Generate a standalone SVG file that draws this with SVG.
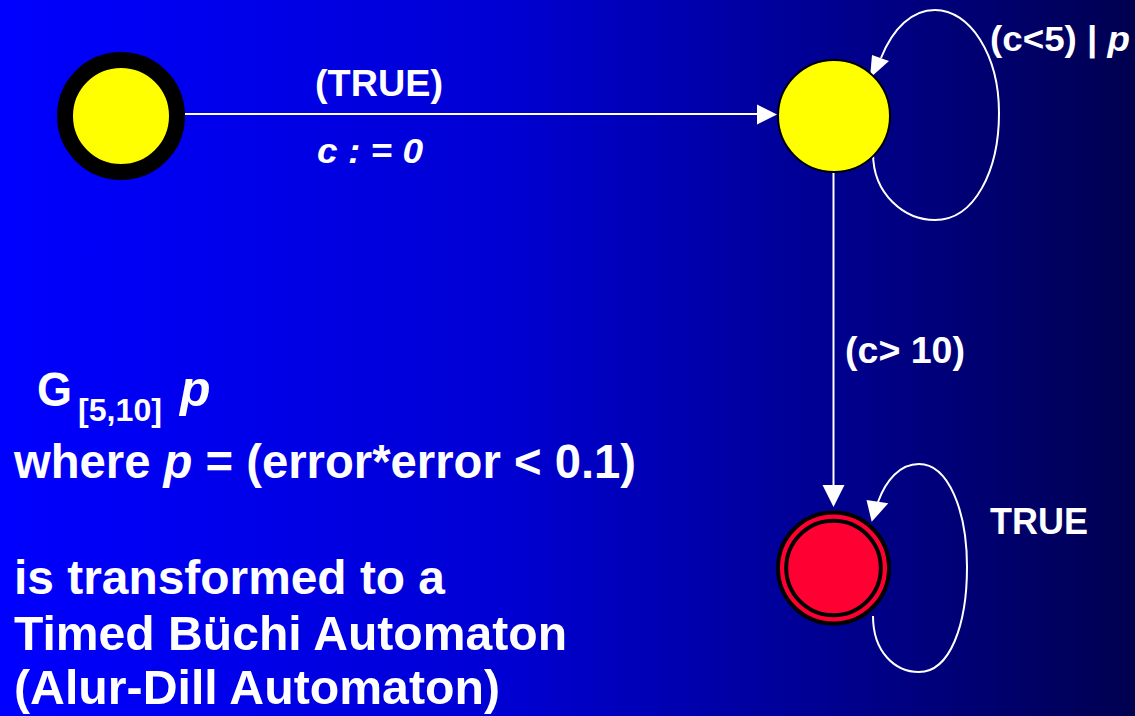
<svg xmlns="http://www.w3.org/2000/svg" width="1135" height="716" viewBox="0 0 1135 716">
<style>
.t{font-family:"Liberation Sans",Arial,sans-serif;font-weight:bold;fill:#fff}
.i{font-style:italic}
.edge{stroke:#fff;stroke-width:2;fill:none}
.head{fill:#fff}
</style>
<defs>
<linearGradient id="bg" x1="0" y1="0" x2="1" y2="0">
<stop offset="0" stop-color="#0000ff"/>
<stop offset="0.45" stop-color="#0000d2"/>
<stop offset="0.75" stop-color="#00008c"/>
<stop offset="1" stop-color="#000050"/>
</linearGradient>
</defs>
<rect width="1135" height="716" fill="url(#bg)"/>
<g id="connectors">
<line class="edge" x1="185" y1="114" x2="760" y2="114"/>
<polygon class="head" points="777,114.5 757,104.5 757,124.5"/>
<line class="edge" x1="833.5" y1="172" x2="833.5" y2="488"/>
<polygon class="head" points="833.5,507 822.5,485 844.5,485"/>
<path class="edge" d="M873,153 C873,195 905,220 935,220 C975,220 999,170 999,113 C999,55 970,10 935,10 C912,10 893,28 881,58"/>
<polygon class="head" points="870,78 872,55 889,61"/>
<path class="edge" d="M873,616 C873,652 895,672 919,672 C950,672 967,625 967,567 C967,510 948,464 919,464 C900,464 886,480 878,502"/>
<polygon class="head" points="871.7,521.7 866.5,500 888.3,503.3"/>
</g>
<g id="label-true-top"><text class="t" x="315" y="96" font-size="36" textLength="128" lengthAdjust="spacingAndGlyphs">(TRUE)</text></g>
<g id="label-reset"><text class="t i" x="317" y="163" font-size="35" textLength="106" lengthAdjust="spacingAndGlyphs">c : = 0</text></g>
<g id="label-loop1"><text class="t" x="990" y="51" font-size="35" textLength="140" lengthAdjust="spacingAndGlyphs">(c&lt;5) | <tspan class="i">p</tspan></text></g>
<g id="label-c10"><text class="t" x="845" y="363" font-size="36" textLength="120" lengthAdjust="spacingAndGlyphs">(c&gt; 10)</text></g>
<g id="label-loop2"><text class="t" x="990" y="534" font-size="36" textLength="98" lengthAdjust="spacingAndGlyphs">TRUE</text></g>
<g id="start">
<circle cx="121" cy="116" r="56" fill="#ffff00" stroke="#000" stroke-width="16"/>
</g>
<g id="wait">
<circle cx="834" cy="116" r="56" fill="#ffff00" stroke="#000" stroke-width="2"/>
</g>
<g id="accept">
<circle cx="833.5" cy="568" r="55.5" fill="#ff0033" stroke="#000" stroke-width="4"/>
<circle cx="833.5" cy="568" r="47.3" fill="#ff0033" stroke="#000" stroke-width="4"/>
</g>
<g id="caption">
<text class="t" x="37" y="406" font-size="48" textLength="35" lengthAdjust="spacingAndGlyphs">G</text>
<text class="t" x="78" y="421" font-size="32" textLength="84" lengthAdjust="spacingAndGlyphs">[5,10]</text>
<text class="t i" x="180" y="406" font-size="50">p</text>
<text class="t" x="14" y="478" font-size="48" textLength="622" lengthAdjust="spacingAndGlyphs">where <tspan class="i">p</tspan> = (error*error &lt; 0.1)</text>
<text class="t" x="14" y="594" font-size="48" textLength="431" lengthAdjust="spacingAndGlyphs">is transformed to a</text>
<text class="t" x="14" y="650" font-size="48" textLength="553" lengthAdjust="spacingAndGlyphs">Timed Büchi Automaton</text>
<text class="t" x="14" y="704" font-size="48" textLength="486" lengthAdjust="spacingAndGlyphs">(Alur-Dill Automaton)</text>
</g>
</svg>
